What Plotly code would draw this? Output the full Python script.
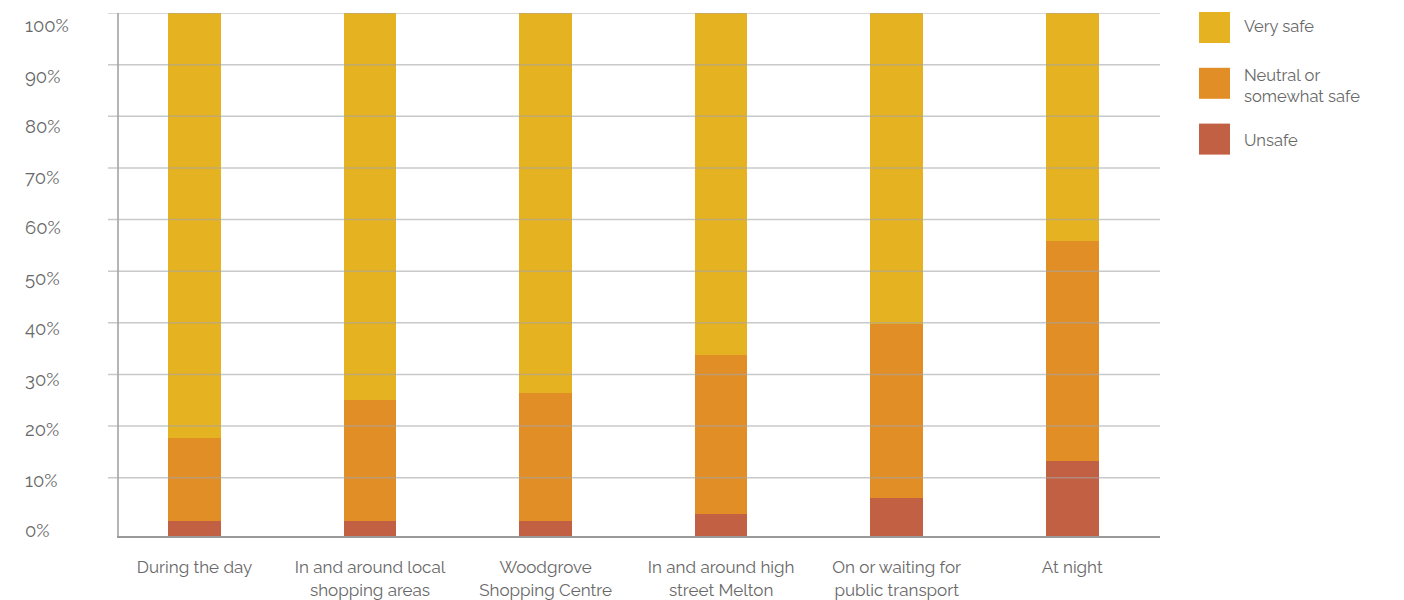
import plotly.graph_objects as go

# ---------------- data ----------------
categories = [
    "During the day",
    "In and around local<br>shopping areas",
    "Woodgrove<br>Shopping Centre",
    "In and around high<br>street Melton",
    "On or waiting for<br>public transport",
    "At night",
]
unsafe = [1.7, 1.7, 1.7, 3.0, 6.1, 13.3]
neutral = [16.0, 23.4, 24.7, 30.8, 33.6, 42.5]
very_safe = [82.3, 74.9, 73.6, 66.2, 60.3, 44.2]

series_names = ["Unsafe", "Neutral or<br>somewhat safe", "Very safe"]
series_colors = ["#C26043", "#E18E26", "#E5B222"]

tick_values = [0, 10, 20, 30, 40, 50, 60, 70, 80, 90, 100]
tick_labels = [f"{v}%" for v in tick_values]
grid_values = tick_values[1:]

# ---------------- layout helpers ----------------
W, H = 1404, 600
L, R, T, B = 119, 244, 13, 64
PW, PH = W - L - R, H - T - B
FLOOR = -1.3  # axis floor below the 0% line
TEXT = "#686868"
FONT = "Raleway, Lato, sans-serif"


def px_x(px):
    return (px - L) / PW


def px_y(py):
    return (H - B - py) / PH


# ---------------- traces ----------------
n = len(categories)
lows = [[FLOOR] * n]
lows.append(list(unsafe))
lows.append([u + m for u, m in zip(unsafe, neutral)])
values = [unsafe, neutral, very_safe]

fig = go.Figure()
for i in range(3):
    base = lows[i]
    tops = [b + v for b, v in zip(base, values[i])] if i else list(unsafe)
    fig.add_trace(
        go.Bar(
            x=categories,
            y=[t - b for t, b in zip(tops, base)],
            base=base,
            customdata=values[i],
            name=series_names[i],
            marker=dict(color=series_colors[i], line=dict(width=0)),
            width=0.3,
            showlegend=False,
            hovertemplate="%{x}<br>" + series_names[i] + ": %{customdata}%<extra></extra>",
        )
    )

# invisible trace carrying the label axis
fig.add_trace(go.Scatter(x=[], y=[], yaxis="y2", showlegend=False, hoverinfo="skip"))

shapes = []
for v in grid_values:
    shapes.append(
        dict(
            type="line", xref="paper", yref="y",
            x0=px_x(108), x1=1, y0=v, y1=v,
            line=dict(color="rgba(165,165,165,0.6)", width=1.5),
            layer="above",
        )
    )

# custom legend (large square swatches)
annotations = []
legend_order = [2, 1, 0]
text_offsets = [14, 18, 16]
for k, idx in enumerate(legend_order):
    top = 12 + k * 55.8
    shapes.append(
        dict(
            type="rect", xref="paper", yref="paper",
            x0=px_x(1199), x1=px_x(1230), y0=px_y(top + 31), y1=px_y(top),
            fillcolor=series_colors[idx], line=dict(width=0),
        )
    )
    annotations.append(
        dict(
            xref="paper", yref="paper", x=px_x(1242), y=px_y(top + text_offsets[k]),
            xanchor="left", yanchor="middle", align="left", showarrow=False,
            text=series_names[idx],
            font=dict(family=FONT, size=16.5, color=TEXT),
        )
    )

# label axis range chosen so 0% sits at 531px and 100% at 26px
lab_unit = (531 - 26) / 100.0
r0 = -((H - B) - 531) / lab_unit
r1 = r0 + PH / lab_unit

fig.update_layout(
    width=W, height=H,
    margin=dict(l=L, r=R, t=T, b=B, pad=0, autoexpand=False),
    paper_bgcolor="white", plot_bgcolor="white",
    barmode="overlay", bargap=0,
    font=dict(family=FONT, size=17, color=TEXT),
    showlegend=False,
    shapes=shapes,
    annotations=annotations,
    xaxis=dict(
        type="category", range=[-0.43, 5.5], fixedrange=True, automargin=False,
        showline=True, linecolor="#9a9a9a", linewidth=2,
        showgrid=False, zeroline=False,
        ticks="outside", ticklen=15, tickcolor="rgba(0,0,0,0)",
        tickfont=dict(family=FONT, size=17, color=TEXT),
    ),
    yaxis=dict(
        range=[FLOOR, 100], fixedrange=True, automargin=False,
        showline=True, linecolor="#b5b5b5", linewidth=2,
        showgrid=False, zeroline=False, showticklabels=False, ticks="",
    ),
    yaxis2=dict(
        overlaying="y", anchor="x", side="left", automargin=False,
        range=[r0, r1], fixedrange=True,
        tickmode="array", tickvals=tick_values, ticktext=tick_labels,
        showgrid=False, zeroline=False, showline=False, ticks="",
        ticklabelposition="inside", ticklabelstandoff=-97,
        ticklabeloverflow="allow",
        tickfont=dict(family=FONT, size=18.5, color=TEXT),
    ),
)

fig.write_html("out.html")
